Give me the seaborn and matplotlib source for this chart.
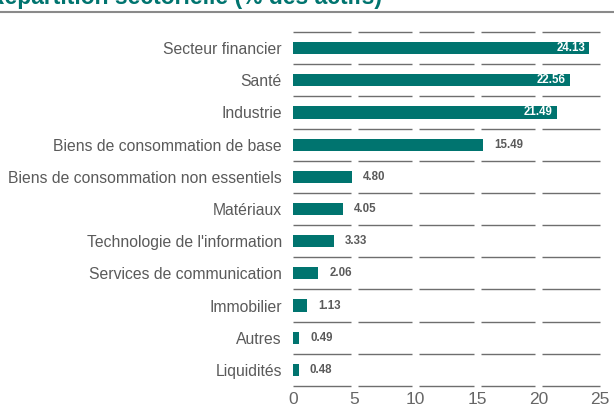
import matplotlib
matplotlib.use("Agg")
import matplotlib.pyplot as plt
import seaborn as sns
import pandas as pd

# Sector allocation (% of assets)
sectors = [
    "Secteur financier",
    "Santé",
    "Industrie",
    "Biens de consommation de base",
    "Biens de consommation non essentiels",
    "Matériaux",
    "Technologie de l'information",
    "Services de communication",
    "Immobilier",
    "Autres",
    "Liquidités",
]
weights = [24.13, 22.56, 21.49, 15.49, 4.80, 4.05, 3.33, 2.06, 1.13, 0.49, 0.48]
x_ticks = [0, 5, 10, 15, 20, 25]

TEAL = "#00746F"
GREY_TEXT = "#5a5a5a"
GRID = "#6e6e6e"

sns.set_theme(style="white")
plt.rcParams["font.family"] = ["Liberation Sans", "DejaVu Sans"]

df = pd.DataFrame({"secteur": sectors, "poids": weights})

fig = plt.figure(figsize=(6.14, 4.08), dpi=100)
ax = fig.add_axes([293 / 614, 1 - 386 / 408, 307 / 614, (386 - 32) / 408])

sns.barplot(data=df, x="poids", y="secteur", orient="h", color=TEAL,
            saturation=1, width=0.38, linewidth=0, ax=ax)

ax.set_xlim(x_ticks[0], x_ticks[-1])
ax.set_ylim(len(sectors) - 0.5, -0.5)

# Segmented separators between rows, one segment per tick interval
gap = 0.3
for yb in [i - 0.5 for i in range(len(sectors) + 1)]:
    for a, b in zip(x_ticks[:-1], x_ticks[1:]):
        ax.hlines(yb, a + (gap if a > 0 else 0), b - (gap if b < x_ticks[-1] else 0),
                  color=GRID, lw=1.0, clip_on=False, zorder=1)

# Value labels: inside the bar for the long ones, beside it otherwise
for i, v in enumerate(weights):
    if v > 20:
        ax.text(v - 0.35, i, f"{v:.2f}", ha="right", va="center",
                color="white", fontsize=8.3, fontweight="bold")
    else:
        ax.text(v + 0.9, i, f"{v:.2f}", ha="left", va="center",
                color=GREY_TEXT, fontsize=8.3, fontweight="bold")

for s in ax.spines.values():
    s.set_visible(False)
ax.set_xlabel("")
ax.set_ylabel("")
ax.set_xticks(x_ticks)
ax.set_xticklabels([str(t) for t in x_ticks])
ax.tick_params(axis="x", length=0, pad=4, labelsize=12.5, labelcolor="#666666")
ax.tick_params(axis="y", length=0, pad=8, labelsize=11.3, labelcolor=GREY_TEXT)
ax.grid(False)

# Header with rule underneath
fig.text(-0.02, 1 - 4 / 408, "Répartition sectorielle (% des actifs)",
         color=TEAL, fontsize=16.5, fontweight="bold", ha="left", va="baseline")
fig.add_artist(plt.Line2D([0, 1], [1 - 11.5 / 408] * 2, color="#8a8a8a", lw=1.5,
                          transform=fig.transFigure))

fig.savefig("out.png", dpi=100)
